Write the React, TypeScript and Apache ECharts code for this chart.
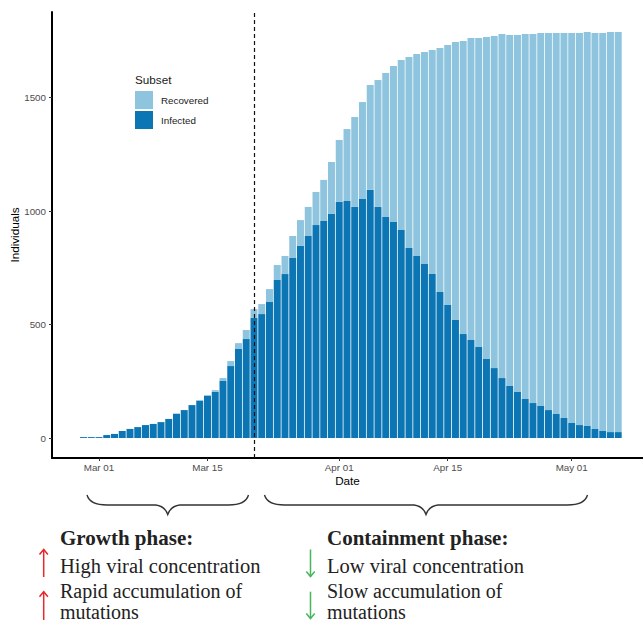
import React, { useEffect, useRef } from 'react';
import * as echarts from 'echarts';

// Days are counted from Mar 01 (2020); first bar is Feb 28.
const firstDayOffset = -2;

const infected = [
  4, 4, 4, 13, 18, 31, 40, 48, 57, 62, 70, 84, 107, 123, 145,
  163, 185, 203, 251, 317, 392, 436, 529, 546, 599,
  696, 722, 793, 846, 890, 938, 956, 987, 1040, 1044,
  1018, 1053, 1093, 1018, 974, 952, 916, 837, 802, 767,
  722, 643, 586, 520, 458, 432, 401, 348, 308, 264,
  229, 203, 172, 154, 141, 123, 106, 88, 66, 57,
  53, 40, 31, 26, 26,
];

const recovered = [
  0, 0, 0, 0, 0, 0, 0, 0, 0, 0, 0, 0, 0, 0, 0,
  4, 4, 8, 13, 22, 26, 40, 39, 44, 57,
  66, 80, 97, 114, 128, 146, 181, 229, 273, 317,
  396, 427, 462, 559, 634, 687, 749, 841, 890, 933,
  987, 1075, 1145, 1224, 1291, 1330, 1361, 1419, 1463, 1516,
  1546, 1572, 1608, 1626, 1643, 1661, 1678, 1696, 1718, 1727,
  1736, 1744, 1753, 1763, 1763,
];

const xTickDays = [0, 14, 31, 45, 61];
const xTickLabels = ['Mar 01', 'Mar 15', 'Apr 01', 'Apr 15', 'May 01'];
const yTickValues = [0, 500, 1000, 1500];
const phaseBoundaryDay = 20; // Mar 21

const seriesNames = ['Recovered', 'Infected'];
const legendTitle = 'Subset';
const xTitle = 'Date';
const yTitle = 'Individuals';

const growthTitle = 'Growth phase:';
const growthLines = ['High viral concentration', 'Rapid accumulation of\nmutations'];
const containTitle = 'Containment phase:';
const containLines = ['Low viral concentration', 'Slow accumulation of\nmutations'];

const COLOR_REC = '#8fc4df';
const COLOR_INF = '#0c75b4';
const RED = '#e8262c';
const GREEN = '#47b55b';

function bracePath(x1: number, x2: number, yEnd: number, yLine: number, yTip: number) {
  const xc = (x1 + x2) / 2;
  return (
    `M${x1} ${yEnd} Q${x1 + 3} ${yLine} ${x1 + 20} ${yLine} ` +
    `L${xc - 12} ${yLine} Q${xc - 3} ${yLine + 1} ${xc} ${yTip} ` +
    `Q${xc + 3} ${yLine + 1} ${xc + 12} ${yLine} ` +
    `L${x2 - 20} ${yLine} Q${x2 - 3} ${yLine} ${x2} ${yEnd}`
  );
}

echarts.graphic.registerShape('braceGrowth', echarts.graphic.extendPath(bracePath(87, 248.5, 495, 505, 514.5), {}));
echarts.graphic.registerShape('braceContain', echarts.graphic.extendPath(bracePath(264.5, 587.5, 495, 505, 514.5), {}));

function arrow(x: number, yFrom: number, yTo: number, color: string) {
  const dir = yTo < yFrom ? 1 : -1; // 1 = up
  const head = 5;
  return [
    { type: 'line', shape: { x1: x, y1: yFrom, x2: x, y2: yTo }, style: { stroke: color, lineWidth: 1.5 } },
    {
      type: 'polyline',
      shape: { points: [[x - 4.2, yTo + dir * head], [x, yTo], [x + 4.2, yTo + dir * head]] },
      style: { stroke: color, lineWidth: 1.5, fill: 'none' },
    },
  ];
}

const serif = '"Liberation Serif", "Times New Roman", serif';
const sans = '"Liberation Sans", Arial, sans-serif';

export default function App() {
  const ref = useRef<HTMLDivElement>(null);

  useEffect(() => {
    document.body.style.margin = '0';
    if (!ref.current) return;
    const chart = echarts.init(ref.current, undefined, { renderer: 'svg' });

    const infData = infected.map((v, i) => [v, firstDayOffset + i]);
    const recData = recovered.map((v, i) => [v, firstDayOffset + i]);

    const textEl = (x: number, y: number, text: string, size: number, bold = false, lineHeight?: number) => ({
      type: 'text',
      x,
      y,
      style: {
        text,
        fontFamily: serif,
        fontSize: size,
        fontWeight: bold ? 'bold' : 'normal',
        fill: '#222',
        verticalAlign: 'middle',
        align: 'left',
        ...(lineHeight ? { lineHeight } : {}),
      },
    });

    chart.setOption({
      animation: false,
      grid: { left: 52, top: 12, width: 591, height: 446, containLabel: false, outerBoundsMode: 'none' },
      xAxis: {
        type: 'value',
        min: -6.065,
        max: 70.2,
        name: xTitle,
        nameLocation: 'middle',
        nameGap: 16,
        nameMoveOverlap: false,
        nameTextStyle: { fontSize: 11.7, color: '#000', fontFamily: sans },
        axisLine: { onZero: false, lineStyle: { color: '#000', width: 2 } },
        axisTick: { show: true, length: 3, customValues: xTickDays, lineStyle: { color: '#333', width: 1 } },
        axisLabel: {
          customValues: xTickDays,
          formatter: (v: number) => xTickLabels[xTickDays.indexOf(v)] ?? '',
          fontSize: 9.8,
          color: '#4d4d4d',
          fontFamily: sans,
          margin: 4,
        },
        splitLine: { show: false },
      },
      yAxis: {
        type: 'value',
        min: -88.1,
        max: 1876.7,
        name: yTitle,
        nameLocation: 'middle',
        nameGap: 32,
        nameMoveOverlap: false,
        nameTextStyle: { fontSize: 11.7, color: '#000', fontFamily: sans },
        axisLine: { show: true, onZero: false, lineStyle: { color: '#000', width: 2 } },
        axisTick: { show: true, length: 3, customValues: yTickValues, lineStyle: { color: '#333', width: 1 } },
        axisLabel: {
          customValues: yTickValues,
          formatter: (v: number) => String(v),
          fontSize: 9.8,
          color: '#4d4d4d',
          fontFamily: sans,
          margin: 6,
        },
        splitLine: { show: false },
      },
      legend: {
        data: seriesNames,
        orient: 'vertical',
        left: 135,
        top: 91,
        padding: 0,
        itemWidth: 18,
        itemHeight: 18,
        itemGap: 2,
        icon: 'rect',
        textStyle: { fontSize: 9.8, color: '#1a1a1a', fontFamily: sans, padding: [0, 0, 0, 3] },
        selectedMode: false,
      },
      series: [
        {
          name: 'Infected',
          type: 'bar',
          stack: 'total',
          encode: { x: 1, y: 0 },
          barWidth: 6.97,
          itemStyle: { color: COLOR_INF },
          data: infData,
          markLine: {
            silent: true,
            symbol: ['none', 'none'],
            label: { show: false },
            lineStyle: { color: '#111', width: 1.2, type: [4, 3] },
            data: [{ xAxis: phaseBoundaryDay }],
          },
        },
        {
          name: 'Recovered',
          type: 'bar',
          stack: 'total',
          encode: { x: 1, y: 0 },
          barWidth: 6.97,
          itemStyle: { color: COLOR_REC },
          data: recData,
        },
      ],
      graphic: [
        {
          type: 'text',
          x: 135,
          y: 79,
          style: { text: legendTitle, fontSize: 11.7, fontFamily: sans, fill: '#1a1a1a', verticalAlign: 'middle' },
        },
        { type: 'braceGrowth', x: 0, y: 0, style: { fill: 'none', stroke: '#333', lineWidth: 1.4 } },
        { type: 'braceContain', x: 0, y: 0, style: { fill: 'none', stroke: '#333', lineWidth: 1.4 } },
        textEl(60, 538, growthTitle, 21, true),
        textEl(60, 565.5, growthLines[0], 20.5),
        textEl(60, 601.5, growthLines[1], 20, false, 21),
        textEl(327, 538, containTitle, 21, true),
        textEl(327, 565.5, containLines[0], 20.5),
        textEl(327, 601.5, containLines[1], 20, false, 21),
        ...arrow(43.7, 577, 549.5, RED),
        ...arrow(43.7, 620, 591.7, RED),
        ...arrow(310.5, 549.5, 576.5, GREEN),
        ...arrow(310.5, 591.7, 618.5, GREEN),
      ],
    });

    return () => chart.dispose();
  }, []);

  return <div ref={ref} style={{ position: 'absolute', left: 0, top: 0, width: 643, height: 623 }} />;
}
